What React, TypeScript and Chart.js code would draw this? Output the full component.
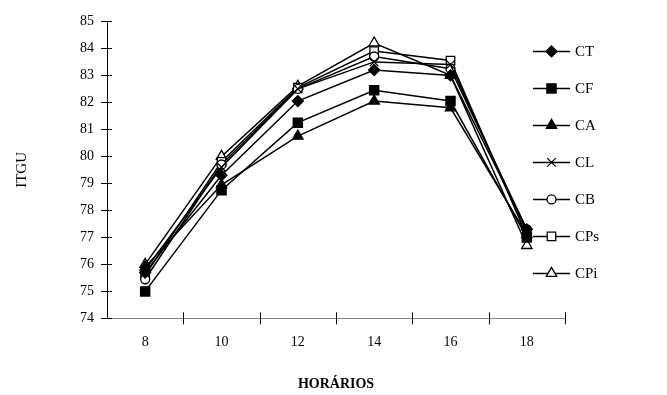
import React, { useEffect, useRef } from 'react';
import { Chart, registerables } from 'chart.js';
import { drawPoint } from 'chart.js/helpers';

Chart.register(...registerables);

// ---- data ----
const HOURS = [8, 10, 12, 14, 16, 18];
const SERIES_NAMES = ['CT', 'CF', 'CA', 'CL', 'CB', 'CPs', 'CPi'];
const CT = [75.7, 79.3, 82.05, 83.2, 83.0, 77.3];
const CF = [75.0, 78.75, 81.25, 82.45, 82.05, 77.0];
const CA = [75.9, 78.95, 80.75, 82.05, 81.8, 77.1];
const CL = [75.8, 79.6, 82.5, 83.5, 83.4, 77.2];
const CB = [75.45, 79.7, 82.5, 83.7, 83.25, 77.3];
const CPS = [75.6, 79.8, 82.55, 83.9, 83.55, 77.05];
const CPI = [76.0, 80.0, 82.6, 84.2, 83.0, 76.7];
const SERIES_VALUES = [CT, CF, CA, CL, CB, CPS, CPI];
const Y_MIN = 74;
const Y_MAX = 85;
const X_MIN = 7;
const X_MAX = 19;
const X_TITLE = 'HORÁRIOS';
const Y_TITLE = 'ITGU';

// ---- styles ----
const MARKERS = [
  { pointStyle: 'rectRot', radius: 5.5, fill: '#000000' },
  { pointStyle: 'rect', radius: 6.5, fill: '#000000' },
  { pointStyle: 'triangle', radius: 6, fill: '#000000' },
  { pointStyle: 'crossRot', radius: 6, fill: '#000000' },
  { pointStyle: 'circle', radius: 4.5, fill: '#ffffff' },
  { pointStyle: 'rect', radius: 6, fill: '#ffffff' },
  { pointStyle: 'triangle', radius: 6, fill: '#ffffff' },
];
const FONT = 'Liberation Serif';

const crossTicksPlugin = {
  id: 'crossTicks',
  afterDraw(chart: any) {
    const ctx = chart.ctx;
    const xs = chart.scales.x;
    const ys = chart.scales.y;
    const area = chart.chartArea;
    ctx.save();
    ctx.strokeStyle = '#000000';
    ctx.lineWidth = 1;
    ys.ticks.forEach((t: any) => {
      const py = Math.round(ys.getPixelForValue(t.value)) + 0.5;
      ctx.beginPath();
      ctx.moveTo(area.left - 6, py);
      ctx.lineTo(area.left + 5, py);
      ctx.stroke();
    });
    xs.ticks.forEach((t: any) => {
      if (Math.abs(t.value % 2) === 1 && t.value > X_MIN) {
        const px = Math.round(xs.getPixelForValue(t.value)) + 0.5;
        ctx.beginPath();
        ctx.moveTo(px, area.bottom - 6);
        ctx.lineTo(px, area.bottom + 6);
        ctx.stroke();
      }
    });
    ctx.restore();
  },
};

const legendPlugin = {
  id: 'sideLegend',
  afterDraw(chart: any) {
    const ctx = chart.ctx;
    const area = chart.chartArea;
    ctx.save();
    chart.data.datasets.forEach((ds: any, i: number) => {
      const y = area.top + 30 + i * 37;
      const x0 = area.right - 32;
      const x1 = area.right + 5;
      ctx.strokeStyle = '#000000';
      ctx.lineWidth = 1.5;
      ctx.beginPath();
      ctx.moveTo(x0, y);
      ctx.lineTo(x1, y);
      ctx.stroke();
      const m = MARKERS[i];
      ctx.fillStyle = m.fill;
      ctx.strokeStyle = '#000000';
      ctx.lineWidth = 1.3;
      drawPoint(ctx, { pointStyle: m.pointStyle as any, radius: m.radius, rotation: 0, borderWidth: 1.3 }, (x0 + x1) / 2, y);
      ctx.fillStyle = '#000000';
      ctx.font = `15px "${FONT}"`;
      ctx.textBaseline = 'middle';
      ctx.textAlign = 'left';
      ctx.fillText(ds.label, area.right + 10, y + 1);
    });
    ctx.restore();
  },
};

export default function App() {
  const canvasRef = useRef<HTMLCanvasElement | null>(null);

  useEffect(() => {
    const canvas = canvasRef.current;
    if (!canvas) return;
    const datasets = SERIES_NAMES.map((name, i) => ({
      label: name,
      data: HOURS.map((h, j) => ({ x: h, y: SERIES_VALUES[i][j] })),
      borderColor: '#000000',
      borderWidth: 1.5,
      backgroundColor: MARKERS[i].fill,
      pointStyle: MARKERS[i].pointStyle as any,
      pointRadius: MARKERS[i].radius,
      pointBackgroundColor: MARKERS[i].fill,
      pointBorderColor: '#000000',
      pointBorderWidth: 1.3,
      tension: 0,
      fill: false,
    }));
    const chart = new Chart(canvas, {
      type: 'line',
      data: { datasets },
      plugins: [crossTicksPlugin, legendPlugin],
      options: {
        animation: false,
        responsive: false,
        devicePixelRatio: 1,
        layout: { padding: { left: 0, top: 20, right: 102, bottom: 0 } },
        plugins: {
          legend: { display: false },
          tooltip: { enabled: false },
        },
        scales: {
          x: {
            type: 'linear',
            min: X_MIN,
            max: X_MAX,
            ticks: {
              stepSize: 1,
              autoSkip: false,
              maxRotation: 0,
              padding: 16,
              color: '#000000',
              font: { family: FONT, size: 14 },
              callback: (v: any) => (Number(v) % 2 === 0 ? String(v) : ''),
            },
            grid: { drawOnChartArea: false, drawTicks: false, color: 'rgba(0,0,0,0)' },
            border: { display: true, color: '#808080', width: 1 },
            title: {
              display: true,
              text: X_TITLE,
              color: '#000000',
              font: { family: FONT, size: 14, weight: 'bold' },
              padding: { top: 9, bottom: 2 },
            },
          },
          y: {
            min: Y_MIN,
            max: Y_MAX,
            ticks: {
              stepSize: 1,
              padding: 13,
              color: '#000000',
              font: { family: FONT, size: 14 },
            },
            grid: { drawOnChartArea: false, drawTicks: false, color: 'rgba(0,0,0,0)' },
            border: { display: true, color: '#000000', width: 1 },
            title: {
              display: true,
              text: Y_TITLE,
              color: '#000000',
              font: { family: FONT, size: 15 },
              padding: { top: 13, bottom: 36 },
            },
          },
        },
      } as any,
    });
    return () => chart.destroy();
  }, []);

  return (
    <div style={{ position: 'absolute', left: 0, top: 0, width: 667, height: 395, background: '#ffffff' }}>
      <canvas ref={canvasRef} width={667} height={395} style={{ display: 'block' }} />
    </div>
  );
}
